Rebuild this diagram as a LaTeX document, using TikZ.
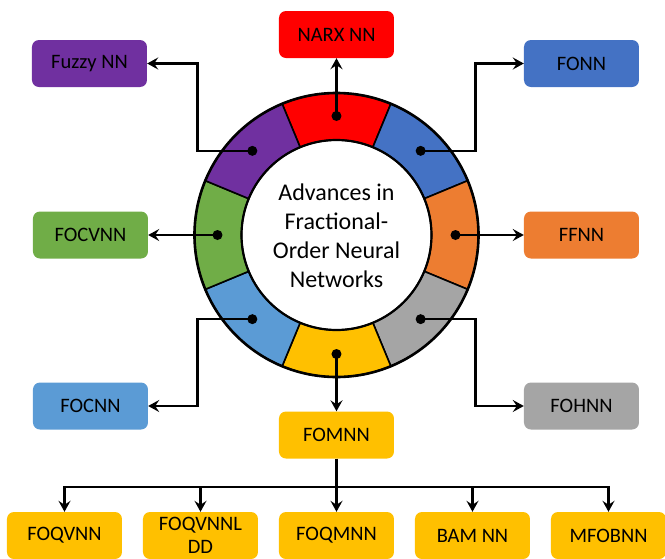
\documentclass[tikz,border=0pt]{standalone}
\usepackage{fontspec}
\setmainfont{Carlito}
\usetikzlibrary{arrows.meta,positioning}
\definecolor{cred}{HTML}{FF0000}
\definecolor{cblue}{HTML}{4472C4}
\definecolor{corange}{HTML}{ED7D31}
\definecolor{cgray}{HTML}{A5A5A5}
\definecolor{cyellow}{HTML}{FFC000}
\definecolor{clblue}{HTML}{5B9BD5}
\definecolor{cgreen}{HTML}{70AD47}
\definecolor{cpurple}{HTML}{7030A0}

\begin{document}
\begin{tikzpicture}[x=1pt,y=1pt,>={Stealth[length=11pt,width=12pt,inset=4pt]},
	box/.style={rounded corners=7pt, minimum width=115pt, minimum height=47pt, inner sep=0pt, align=center, font=\fontsize{20.5}{25}\selectfont},
	dot/.style={circle, fill=black, inner sep=0pt, minimum size=10pt},
	link/.style={->, line width=2.2pt}]
	\useasboundingbox (-336.5,235) rectangle (328.5,-323);
	% ring of eight coloured segments
	\foreach \ang/\col in {90/cred,45/cblue,0/corange,-45/cgray,-90/cyellow,-135/clblue,180/cgreen,135/cpurple}{
		\pgfmathsetmacro{\a}{\ang-22.5}
		\pgfmathsetmacro{\b}{\ang+22.5}
		\draw[fill=\col, line width=1.6pt] (\a:142) arc[start angle=\a, end angle=\b, radius=142] -- (\b:95) arc[start angle=\b, end angle=\a, radius=95] -- cycle;
	}
	\draw[line width=2.6pt] (0,0) circle[radius=142];
	\draw[line width=2.2pt] (0,0) circle[radius=95];
	\node[align=center, font=\fontsize{24}{29}\selectfont] (title) at (0,-1) {Advances in\\Fractional-\\Order Neural\\Networks};
	% dots on the ring
	\foreach \ang/\nm in {90/narx,45/fonn,0/ffnn,-45/fohnn,-90/fomnn,-135/focnn,180/focvnn,135/fuzzy}
		\node[dot] (d\nm) at (\ang:119) {};
	% boxes round the ring
	\node[box, fill=cred] (narx) at (0,200.5) {NARX NN};
	\node[box, fill=cblue] (fonn) at (245,171.5) {FONN};
	\node[box, fill=corange] (ffnn) at (245,0) {FFNN};
	\node[box, fill=cgray] (fohnn) at (245,-171) {FOHNN};
	\node[box, fill=cyellow] (fomnn) at (0,-200) {FOMNN};
	\node[box, fill=clblue] (focnn) at (-246,-171) {FOCNN};
	\node[box, fill=cgreen] (focvnn) at (-246,0) {FOCVNN};
	\node[box, fill=cpurple] (fuzzy) at (-247,171.5) {Fuzzy NN};
	% bottom row
	\node[box, fill=cyellow] (foqvnn) at (-272,-300.5) {FOQVNN};
	\node[box, fill=cyellow, font=\fontsize{20.5}{22.5}\selectfont] (foqvnnldd) at (-136,-300.5) {FOQVNNL\\DD};
	\node[box, fill=cyellow] (foqmnn) at (0,-300.5) {FOQMNN};
	\node[box, fill=cyellow] (bamnn) at (136,-300.5) {BAM NN};
	\node[box, fill=cyellow] (mfobnn) at (272,-300.5) {MFOBNN};
	\coordinate (eR) at (139,0);
	\coordinate (eL) at (-139,0);
	\coordinate (bus) at (0,-252);
	\draw[link] (dnarx.center) -- (narx);
	\draw[link] (dfonn.center) -| (eR |- fonn) -- (fonn);
	\draw[link] (dffnn.center) -- (ffnn);
	\draw[link] (dfohnn.center) -| (eR |- fohnn) -- (fohnn);
	\draw[link] (dfomnn.center) -- (fomnn);
	\draw[link] (dfocnn.center) -| (eL |- focnn) -- (focnn);
	\draw[link] (dfocvnn.center) -- (focvnn);
	\draw[link] (dfuzzy.center) -| (eL |- fuzzy) -- (fuzzy);
	\draw[line width=2.2pt] (fomnn) -- (bus);
	\foreach \n in {foqvnn,foqvnnldd,foqmnn,bamnn,mfobnn}
		\draw[link] (bus) -| (\n);
\end{tikzpicture}
\end{document}
